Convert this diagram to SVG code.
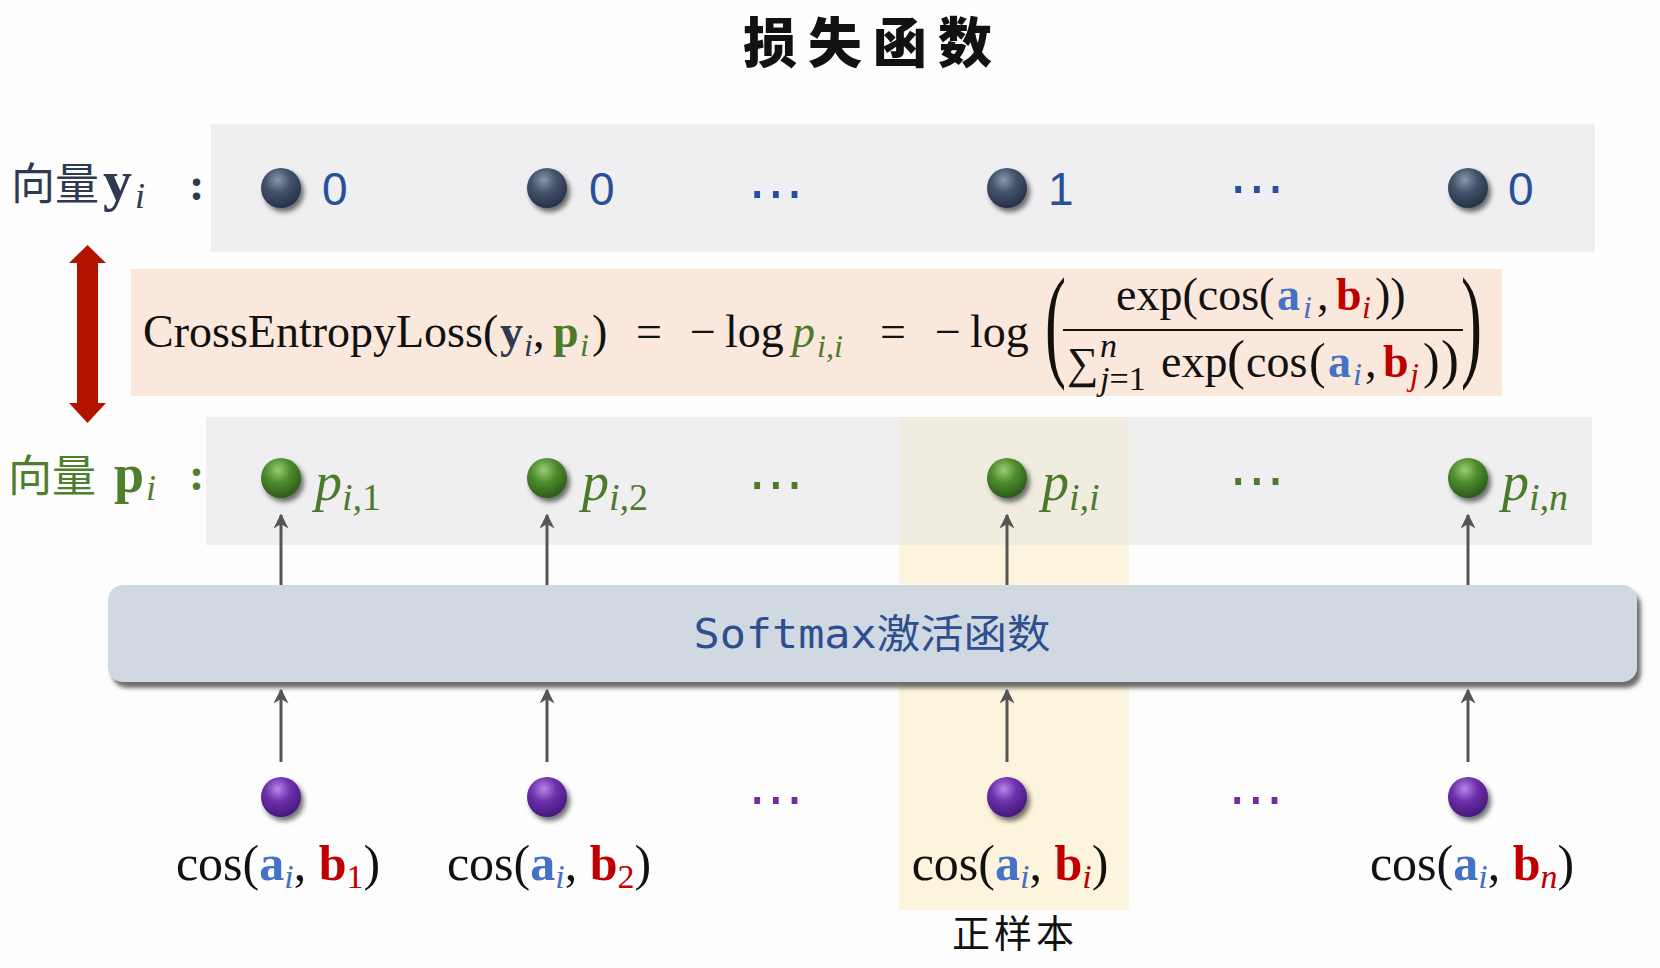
<svg xmlns="http://www.w3.org/2000/svg" width="1660" height="968" viewBox="0 0 1660 968">
<defs>
<style>
.serif{font-family:"Liberation Serif","Times New Roman",serif;}
.cjk{font-family:"Noto Sans CJK SC",sans-serif;}
.num{font-family:"Liberation Sans Narrow","Liberation Sans",Arial,sans-serif;}
.dots{font-family:"DejaVu Sans",sans-serif;font-size:56px;text-anchor:middle;}
.blk{fill:#111111;}
.ab{fill:#4472c4;font-weight:bold;}
.ai{fill:#4472c4;font-style:italic;}
.bb{fill:#c00000;font-weight:bold;}
.bi{fill:#c00000;font-style:italic;}
.grn{fill:#4b7b2a;}
.conn{stroke:#555555;stroke-width:3;fill:none;}
</style>
<radialGradient id="gDark" cx="0.42" cy="0.3" r="0.7">
<stop offset="0" stop-color="#8897ae"/>
<stop offset="0.45" stop-color="#44536b"/>
<stop offset="1" stop-color="#26324a"/>
</radialGradient>
<radialGradient id="gGreen" cx="0.42" cy="0.3" r="0.7">
<stop offset="0" stop-color="#9acc74"/>
<stop offset="0.45" stop-color="#4f8d2e"/>
<stop offset="1" stop-color="#2c5a18"/>
</radialGradient>
<radialGradient id="gPurple" cx="0.42" cy="0.3" r="0.7">
<stop offset="0" stop-color="#b985e6"/>
<stop offset="0.45" stop-color="#6d31ad"/>
<stop offset="1" stop-color="#45197a"/>
</radialGradient>
<filter id="ballShadow" x="-50%" y="-50%" width="200%" height="200%">
<feDropShadow dx="3" dy="4" stdDeviation="2.5" flood-color="#000000" flood-opacity="0.55"/>
</filter>
<filter id="boxShadow" x="-5%" y="-20%" width="110%" height="150%">
<feDropShadow dx="4" dy="6" stdDeviation="2" flood-color="#555555" flood-opacity="0.85"/>
</filter>
<marker id="ah" viewBox="0 0 10 10" refX="9" refY="5" markerWidth="5" markerHeight="5" markerUnits="strokeWidth" orient="auto">
<path d="M0,0 L10,5 L0,10 L3,5 z" fill="#555555"/>
</marker>
</defs>

<rect x="0" y="0" width="1660" height="968" fill="#fdfdfd"/>

<!-- title -->
<text id="title" x="873" y="63" class="cjk" font-size="54" font-weight="900" letter-spacing="11" text-anchor="middle" fill="#111111">损失函数</text>

<!-- background bands -->
<g id="bands">
<rect x="211" y="124" width="1384" height="128" fill="#efeef0"/>
<rect x="131" y="269" width="1371" height="127" fill="#fbe8dc"/>
<rect x="206" y="417" width="1386" height="128" fill="#efeef0"/>
<rect x="899" y="417" width="230" height="128" fill="#f0ede0"/>
<rect x="899" y="545" width="230" height="365" fill="#fcf4dc"/>
</g>

<!-- red double arrow -->
<g id="double-arrow">
<path d="M87.5,245 L106,263 L98,263 L98,403 L106,403 L87.5,423 L69,403 L77,403 L77,263 L69,263 Z" fill="#b31200"/>
</g>

<!-- softmax box -->
<g id="softmax">
<rect x="108" y="585" width="1529" height="97" rx="15" ry="15" fill="#d0d8e2" filter="url(#boxShadow)"/>
<text x="872" y="648" font-size="40" textLength="357" lengthAdjust="spacingAndGlyphs" text-anchor="middle" fill="#2e4f8f" font-family="DejaVu Sans Mono, Noto Sans CJK SC, monospace">Softmax激活函数</text>
</g>

<!-- connectors -->
<g id="connectors">
<line class="conn" x1="281" y1="585" x2="281" y2="515" marker-end="url(#ah)"/>
<line class="conn" x1="547" y1="585" x2="547" y2="515" marker-end="url(#ah)"/>
<line class="conn" x1="1007" y1="585" x2="1007" y2="515" marker-end="url(#ah)"/>
<line class="conn" x1="1468" y1="585" x2="1468" y2="515" marker-end="url(#ah)"/>
<line class="conn" x1="281" y1="762" x2="281" y2="690" marker-end="url(#ah)"/>
<line class="conn" x1="547" y1="762" x2="547" y2="690" marker-end="url(#ah)"/>
<line class="conn" x1="1007" y1="762" x2="1007" y2="690" marker-end="url(#ah)"/>
<line class="conn" x1="1468" y1="762" x2="1468" y2="690" marker-end="url(#ah)"/>
</g>

<!-- row y_i -->
<g id="label-y">
<text x="11" y="200" class="cjk" font-size="44" fill="#2e3a4f">向量</text>
<text x="103" y="200" class="serif" font-size="58" font-weight="bold" fill="#2e3a4f">y</text>
<text x="135" y="208" class="serif" font-size="36" font-style="italic" fill="#2e3a4f">i</text>
<text x="189" y="200" class="serif" font-size="46" font-weight="bold" fill="#2e3a4f">:</text>
</g>
<g id="y1"><circle cx="281" cy="188" r="20" fill="url(#gDark)" filter="url(#ballShadow)"/><text x="322" y="205" class="num" font-size="46" fill="#2a4f99">0</text></g>
<g id="y2"><circle cx="547" cy="188" r="20" fill="url(#gDark)" filter="url(#ballShadow)"/><text x="589" y="205" class="num" font-size="46" fill="#2a4f99">0</text></g>
<g id="ydots1"><text x="776" y="212" class="dots" fill="#2a4f99">⋯</text></g>
<g id="yi"><circle cx="1007" cy="188" r="20" fill="url(#gDark)" filter="url(#ballShadow)"/><text x="1048" y="205" class="num" font-size="46" fill="#2a4f99">1</text></g>
<g id="ydots2"><text x="1257" y="207" class="dots" fill="#2a4f99">⋯</text></g>
<g id="yn"><circle cx="1468" cy="188" r="20" fill="url(#gDark)" filter="url(#ballShadow)"/><text x="1508" y="205" class="num" font-size="46" fill="#2a4f99">0</text></g>

<!-- formula -->
<g id="formula" class="serif">
<text x="143" y="347" font-size="46" class="blk">CrossEntropyLoss(</text>
<text x="500" y="347" font-size="46" font-weight="bold" fill="#2e3a4f">y</text>
<text x="524" y="356" font-size="32" font-style="italic" fill="#2e3a4f">i</text>
<text x="533" y="347" font-size="46" class="blk">,</text>
<text x="553" y="347" font-size="46" font-weight="bold" class="grn">p</text>
<text x="580" y="356" font-size="32" font-style="italic" class="grn">i</text>
<text x="592" y="347" font-size="46" class="blk">)</text>
<text x="636" y="347" font-size="46" class="blk">=</text>
<text x="690" y="347" font-size="46" class="blk">−</text>
<text x="725" y="347" font-size="46" class="blk">log</text>
<text x="792" y="347" font-size="46" font-style="italic" class="grn">p</text>
<text x="817" y="357" font-size="32" font-style="italic" class="grn">i,i</text>
<text x="880" y="347" font-size="46" class="blk">=</text>
<text x="935" y="347" font-size="46" class="blk">−</text>
<text x="970" y="347" font-size="46" class="blk">log</text>
<text transform="translate(1045,364) scale(0.5,1)" font-size="126" class="blk">(</text>
<text transform="translate(1461,364) scale(0.5,1)" font-size="126" class="blk">)</text>
<!-- numerator -->
<text x="1116" y="310" font-size="46" class="blk">exp(cos(</text>
<text x="1277" y="310" font-size="46" class="ab">a</text>
<text x="1303" y="318" font-size="32" class="ai">i</text>
<text x="1317" y="310" font-size="46" class="blk">,</text>
<text x="1336" y="310" font-size="46" class="bb">b</text>
<text x="1362" y="318" font-size="32" class="bi">i</text>
<text x="1375" y="310" font-size="46" class="blk">))</text>
<line x1="1063" y1="330" x2="1463" y2="330" stroke="#111111" stroke-width="2.2"/>
<!-- denominator -->
<text x="1067" y="378" font-size="44" class="blk">∑<tspan x="1100" y="357" font-size="34" font-style="italic">n</tspan><tspan x="1100" y="390" font-size="34"><tspan font-style="italic">j</tspan>=1</tspan></text>
<text x="1161" y="377" font-size="46" class="blk">exp</text>
<text x="1227" y="378" font-size="54" class="blk">(</text>
<text x="1246" y="377" font-size="46" class="blk">cos</text>
<text x="1309" y="378" font-size="50" class="blk">(</text>
<text x="1328" y="377" font-size="46" class="ab">a</text>
<text x="1353" y="385" font-size="32" class="ai">i</text>
<text x="1365" y="377" font-size="46" class="blk">,</text>
<text x="1383" y="377" font-size="46" class="bb">b</text>
<text x="1410" y="385" font-size="32" class="bi">j</text>
<text x="1423" y="378" font-size="50" class="blk">)</text>
<text x="1441" y="378" font-size="54" class="blk">)</text>
</g>

<!-- row p_i -->
<g id="label-p">
<text x="8" y="492" class="cjk" font-size="44" fill="#4f7f2c">向量</text>
<text x="114" y="492" class="serif" font-size="54" font-weight="bold" fill="#4f7f2c">p</text>
<text x="146" y="500" class="serif" font-size="36" font-style="italic" fill="#4f7f2c">i</text>
<text x="189" y="490" class="serif" font-size="46" font-weight="bold" fill="#4f7f2c">:</text>
</g>
<g id="p1"><circle cx="281" cy="478" r="20" fill="url(#gGreen)" filter="url(#ballShadow)"/><text x="315" y="500" class="serif grn" font-size="54" font-style="italic">p<tspan font-size="38" dy="10">i,</tspan><tspan font-size="38" font-style="normal">1</tspan></text></g>
<g id="p2"><circle cx="547" cy="478" r="20" fill="url(#gGreen)" filter="url(#ballShadow)"/><text x="582" y="500" class="serif grn" font-size="54" font-style="italic">p<tspan font-size="38" dy="10">i,</tspan><tspan font-size="38" font-style="normal">2</tspan></text></g>
<g id="pdots1"><text x="776" y="503" class="dots grn">⋯</text></g>
<g id="pi"><circle cx="1007" cy="478" r="20" fill="url(#gGreen)" filter="url(#ballShadow)"/><text x="1042" y="500" class="serif grn" font-size="54" font-style="italic">p<tspan font-size="38" dy="10">i,i</tspan></text></g>
<g id="pdots2"><text x="1257" y="499" class="dots grn">⋯</text></g>
<g id="pn"><circle cx="1468" cy="478" r="20" fill="url(#gGreen)" filter="url(#ballShadow)"/><text x="1502" y="500" class="serif grn" font-size="54" font-style="italic">p<tspan font-size="38" dy="10">i,n</tspan></text></g>

<!-- cos row -->
<g id="c1"><circle cx="281" cy="797" r="20" fill="url(#gPurple)" filter="url(#ballShadow)"/>
<text x="278" y="880" class="serif blk" font-size="50" text-anchor="middle">cos(<tspan class="ab">a</tspan><tspan class="ai" font-size="34" dy="8">i</tspan><tspan dy="-8">, </tspan><tspan class="bb">b</tspan><tspan font-size="34" dy="8" fill="#c00000">1</tspan><tspan dy="-8">)</tspan></text></g>
<g id="c2"><circle cx="547" cy="797" r="20" fill="url(#gPurple)" filter="url(#ballShadow)"/>
<text x="549" y="880" class="serif blk" font-size="50" text-anchor="middle">cos(<tspan class="ab">a</tspan><tspan class="ai" font-size="34" dy="8">i</tspan><tspan dy="-8">, </tspan><tspan class="bb">b</tspan><tspan font-size="34" dy="8" fill="#c00000">2</tspan><tspan dy="-8">)</tspan></text></g>
<g id="cdots1"><text x="776" y="818" class="dots" fill="#7030a0">⋯</text></g>
<g id="ci"><circle cx="1007" cy="797" r="20" fill="url(#gPurple)" filter="url(#ballShadow)"/>
<text x="1010" y="880" class="serif blk" font-size="50" text-anchor="middle">cos(<tspan class="ab">a</tspan><tspan class="ai" font-size="34" dy="8">i</tspan><tspan dy="-8">, </tspan><tspan class="bb">b</tspan><tspan class="bi" font-size="34" dy="8">i</tspan><tspan dy="-8">)</tspan></text></g>
<g id="cdots2"><text x="1256" y="818" class="dots" fill="#7030a0">⋯</text></g>
<g id="cn"><circle cx="1468" cy="797" r="20" fill="url(#gPurple)" filter="url(#ballShadow)"/>
<text x="1472" y="880" class="serif blk" font-size="50" text-anchor="middle">cos(<tspan class="ab">a</tspan><tspan class="ai" font-size="34" dy="8">i</tspan><tspan dy="-8">, </tspan><tspan class="bb">b</tspan><tspan class="bi" font-size="34" dy="8">n</tspan><tspan dy="-8">)</tspan></text></g>

<g id="positive-label"><text x="1015" y="947" class="cjk" font-size="38" letter-spacing="4" text-anchor="middle" fill="#111111">正样本</text></g>
</svg>
